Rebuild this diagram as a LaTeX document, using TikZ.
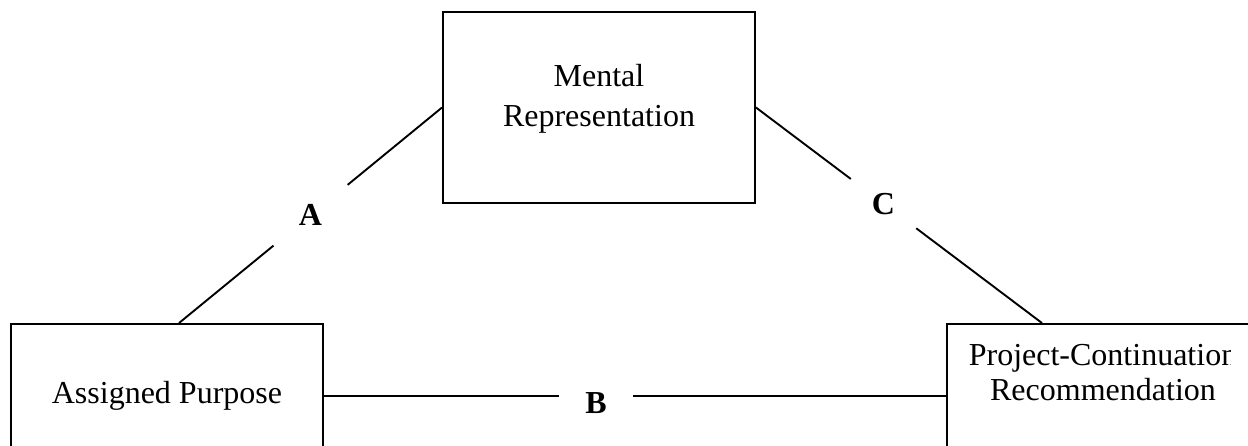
\documentclass[tikz,border=0pt]{standalone}
\usepackage{fontspec}
\setmainfont{Liberation Serif}
\usepackage{tikz}

\begin{document}
\begin{tikzpicture}[x=1pt, y=-1pt, line width=1.9pt,
	box/.style={draw, rectangle, minimum width=312pt, minimum height=191pt, inner sep=0pt, align=center, text height=22pt, font=\fontsize{32}{40}\selectfont},
	gap/.style={circle, inner sep=0pt, font=\fontsize{32}{40}\selectfont\bfseries}]
	\clip (0,0) rectangle (1248,446);

	\node[box, text height=62pt, text depth=23pt] (mr) at (599,107.5) {Mental\\Representation};
	\node[box, text depth=55pt] (ap) at (167,419.5) {Assigned Purpose};
	\begin{scope}
		\clip (0,0) rectangle (1230,446) (1230,0) rectangle (1248,334);
		\node[box, text height=57pt, text depth=96pt, font=\fontsize{32}{35}\selectfont] (pc) at (1103,419.5) {Project-Continuation\\Recommendation};
	\end{scope}

	\path ([xshift=12pt]ap.north) -- node[gap, minimum size=94pt] (la) {A} (mr.west);
	\draw ([xshift=12pt]ap.north) -- (la);
	\draw (la) -- (mr.west);

	\path (mr.east) -- node[gap, minimum size=80pt, pos=0.446] (lc) {C} ([xshift=-61pt]pc.north);
	\draw (mr.east) -- (lc);
	\draw (lc) -- ([xshift=-61pt]pc.north);

	\path ([yshift=23.5pt]ap.east) -- node[gap, rectangle, minimum width=72pt, minimum height=30pt, pos=0.4375, yshift=-7pt] (lb) {B} ([yshift=23.5pt]pc.west);
	\draw ([yshift=23.5pt]ap.east) coordinate (b1) -- (b1 -| lb.west);
	\draw ([yshift=23.5pt]pc.west) coordinate (b2) -- (b2 -| lb.east);
\end{tikzpicture}
\end{document}
